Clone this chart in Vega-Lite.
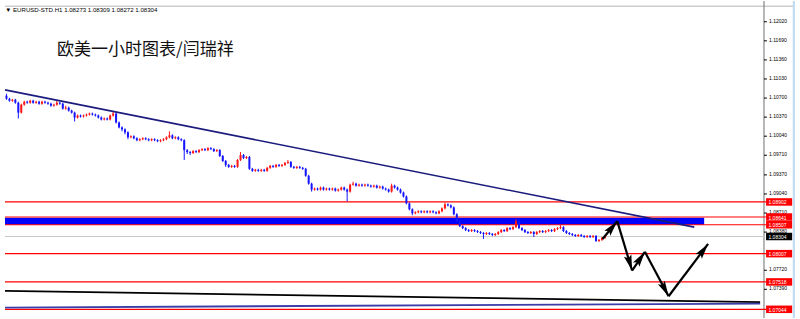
{
  "$schema": "https://vega.github.io/schema/vega-lite/v6.json",
  "width": 800,
  "height": 319,
  "padding": {"left": 0, "right": 0, "top": 0, "bottom": 0},
  "autosize": {"type": "fit", "contains": "padding"},
  "background": "white",
  "config": {"view": {"stroke": null}},
  "datasets": {
    "candles": [
      {"t":0,"o":1.10739,"h":1.10773,"l":1.10670,"c":1.10687},
      {"t":1,"o":1.10687,"h":1.10705,"l":1.10636,"c":1.10653},
      {"t":2,"o":1.10653,"h":1.10687,"l":1.10636,"c":1.10670},
      {"t":3,"o":1.10670,"h":1.10687,"l":1.10602,"c":1.10619},
      {"t":4,"o":1.10619,"h":1.10636,"l":1.10346,"c":1.10448},
      {"t":5,"o":1.10448,"h":1.10602,"l":1.10431,"c":1.10585},
      {"t":6,"o":1.10585,"h":1.10653,"l":1.10568,"c":1.10636},
      {"t":7,"o":1.10636,"h":1.10653,"l":1.10602,"c":1.10619},
      {"t":8,"o":1.10619,"h":1.10670,"l":1.10602,"c":1.10653},
      {"t":9,"o":1.10653,"h":1.10670,"l":1.10602,"c":1.10619},
      {"t":10,"o":1.10619,"h":1.10653,"l":1.10602,"c":1.10636},
      {"t":11,"o":1.10636,"h":1.10653,"l":1.10585,"c":1.10602},
      {"t":12,"o":1.10602,"h":1.10653,"l":1.10585,"c":1.10636},
      {"t":13,"o":1.10636,"h":1.10653,"l":1.10602,"c":1.10619},
      {"t":14,"o":1.10619,"h":1.10636,"l":1.10585,"c":1.10602},
      {"t":15,"o":1.10602,"h":1.10619,"l":1.10551,"c":1.10568},
      {"t":16,"o":1.10568,"h":1.10602,"l":1.10551,"c":1.10585},
      {"t":17,"o":1.10585,"h":1.10653,"l":1.10568,"c":1.10619},
      {"t":18,"o":1.10619,"h":1.10636,"l":1.10585,"c":1.10602},
      {"t":19,"o":1.10602,"h":1.10619,"l":1.10499,"c":1.10517},
      {"t":20,"o":1.10517,"h":1.10568,"l":1.10499,"c":1.10534},
      {"t":21,"o":1.10534,"h":1.10551,"l":1.10465,"c":1.10482},
      {"t":22,"o":1.10482,"h":1.10499,"l":1.10431,"c":1.10448},
      {"t":23,"o":1.10448,"h":1.10465,"l":1.10294,"c":1.10363},
      {"t":24,"o":1.10363,"h":1.10414,"l":1.10346,"c":1.10397},
      {"t":25,"o":1.10397,"h":1.10414,"l":1.10363,"c":1.10380},
      {"t":26,"o":1.10380,"h":1.10414,"l":1.10363,"c":1.10397},
      {"t":27,"o":1.10397,"h":1.10431,"l":1.10380,"c":1.10414},
      {"t":28,"o":1.10414,"h":1.10448,"l":1.10397,"c":1.10431},
      {"t":29,"o":1.10431,"h":1.10448,"l":1.10397,"c":1.10414},
      {"t":30,"o":1.10414,"h":1.10431,"l":1.10380,"c":1.10397},
      {"t":31,"o":1.10397,"h":1.10414,"l":1.10346,"c":1.10363},
      {"t":32,"o":1.10363,"h":1.10380,"l":1.10312,"c":1.10329},
      {"t":33,"o":1.10329,"h":1.10363,"l":1.10312,"c":1.10346},
      {"t":34,"o":1.10346,"h":1.10363,"l":1.10312,"c":1.10329},
      {"t":35,"o":1.10329,"h":1.10414,"l":1.10312,"c":1.10397},
      {"t":36,"o":1.10397,"h":1.10465,"l":1.10380,"c":1.10431},
      {"t":37,"o":1.10431,"h":1.10448,"l":1.10260,"c":1.10277},
      {"t":38,"o":1.10277,"h":1.10294,"l":1.10175,"c":1.10192},
      {"t":39,"o":1.10192,"h":1.10209,"l":1.10124,"c":1.10158},
      {"t":40,"o":1.10158,"h":1.10175,"l":1.10072,"c":1.10107},
      {"t":41,"o":1.10107,"h":1.10124,"l":1.09987,"c":1.10021},
      {"t":42,"o":1.10021,"h":1.10055,"l":1.10004,"c":1.10038},
      {"t":43,"o":1.10038,"h":1.10055,"l":1.09987,"c":1.10004},
      {"t":44,"o":1.10004,"h":1.10021,"l":1.09953,"c":1.09970},
      {"t":45,"o":1.09970,"h":1.10004,"l":1.09953,"c":1.09987},
      {"t":46,"o":1.09987,"h":1.10021,"l":1.09970,"c":1.10004},
      {"t":47,"o":1.10004,"h":1.10021,"l":1.09970,"c":1.09987},
      {"t":48,"o":1.09987,"h":1.10004,"l":1.09953,"c":1.09970},
      {"t":49,"o":1.09970,"h":1.10004,"l":1.09953,"c":1.09987},
      {"t":50,"o":1.09987,"h":1.10004,"l":1.09953,"c":1.09970},
      {"t":51,"o":1.09970,"h":1.09987,"l":1.09936,"c":1.09953},
      {"t":52,"o":1.09953,"h":1.09987,"l":1.09936,"c":1.09970},
      {"t":53,"o":1.09970,"h":1.10004,"l":1.09953,"c":1.09987},
      {"t":54,"o":1.09987,"h":1.10038,"l":1.09970,"c":1.10021},
      {"t":55,"o":1.10021,"h":1.10124,"l":1.10004,"c":1.10055},
      {"t":56,"o":1.10055,"h":1.10072,"l":1.09987,"c":1.10004},
      {"t":57,"o":1.10004,"h":1.10038,"l":1.09987,"c":1.10021},
      {"t":58,"o":1.10021,"h":1.10038,"l":1.09970,"c":1.09987},
      {"t":59,"o":1.09987,"h":1.10004,"l":1.09953,"c":1.09970},
      {"t":60,"o":1.09970,"h":1.09987,"l":1.09628,"c":1.09799},
      {"t":61,"o":1.09799,"h":1.09816,"l":1.09731,"c":1.09765},
      {"t":62,"o":1.09765,"h":1.09782,"l":1.09714,"c":1.09748},
      {"t":63,"o":1.09748,"h":1.09799,"l":1.09731,"c":1.09782},
      {"t":64,"o":1.09782,"h":1.09799,"l":1.09748,"c":1.09765},
      {"t":65,"o":1.09765,"h":1.09816,"l":1.09748,"c":1.09799},
      {"t":66,"o":1.09799,"h":1.09833,"l":1.09782,"c":1.09816},
      {"t":67,"o":1.09816,"h":1.09833,"l":1.09782,"c":1.09799},
      {"t":68,"o":1.09799,"h":1.09850,"l":1.09782,"c":1.09833},
      {"t":69,"o":1.09833,"h":1.09850,"l":1.09799,"c":1.09816},
      {"t":70,"o":1.09816,"h":1.09833,"l":1.09765,"c":1.09782},
      {"t":71,"o":1.09782,"h":1.09816,"l":1.09765,"c":1.09799},
      {"t":72,"o":1.09799,"h":1.09816,"l":1.09680,"c":1.09697},
      {"t":73,"o":1.09697,"h":1.09714,"l":1.09594,"c":1.09611},
      {"t":74,"o":1.09611,"h":1.09628,"l":1.09509,"c":1.09543},
      {"t":75,"o":1.09543,"h":1.09560,"l":1.09492,"c":1.09509},
      {"t":76,"o":1.09509,"h":1.09543,"l":1.09492,"c":1.09526},
      {"t":77,"o":1.09526,"h":1.09543,"l":1.09492,"c":1.09509},
      {"t":78,"o":1.09509,"h":1.09645,"l":1.09492,"c":1.09628},
      {"t":79,"o":1.09628,"h":1.09765,"l":1.09611,"c":1.09714},
      {"t":80,"o":1.09714,"h":1.09731,"l":1.09645,"c":1.09662},
      {"t":81,"o":1.09662,"h":1.09697,"l":1.09645,"c":1.09680},
      {"t":82,"o":1.09680,"h":1.09697,"l":1.09457,"c":1.09475},
      {"t":83,"o":1.09475,"h":1.09492,"l":1.09423,"c":1.09440},
      {"t":84,"o":1.09440,"h":1.09475,"l":1.09423,"c":1.09457},
      {"t":85,"o":1.09457,"h":1.09475,"l":1.09423,"c":1.09440},
      {"t":86,"o":1.09440,"h":1.09475,"l":1.09423,"c":1.09457},
      {"t":87,"o":1.09457,"h":1.09475,"l":1.09423,"c":1.09440},
      {"t":88,"o":1.09440,"h":1.09509,"l":1.09423,"c":1.09492},
      {"t":89,"o":1.09492,"h":1.09543,"l":1.09475,"c":1.09526},
      {"t":90,"o":1.09526,"h":1.09543,"l":1.09492,"c":1.09509},
      {"t":91,"o":1.09509,"h":1.09560,"l":1.09492,"c":1.09543},
      {"t":92,"o":1.09543,"h":1.09560,"l":1.09509,"c":1.09526},
      {"t":93,"o":1.09526,"h":1.09560,"l":1.09509,"c":1.09543},
      {"t":94,"o":1.09543,"h":1.09594,"l":1.09526,"c":1.09577},
      {"t":95,"o":1.09577,"h":1.09628,"l":1.09560,"c":1.09594},
      {"t":96,"o":1.09594,"h":1.09611,"l":1.09492,"c":1.09509},
      {"t":97,"o":1.09509,"h":1.09526,"l":1.09475,"c":1.09492},
      {"t":98,"o":1.09492,"h":1.09526,"l":1.09475,"c":1.09509},
      {"t":99,"o":1.09509,"h":1.09526,"l":1.09475,"c":1.09492},
      {"t":100,"o":1.09492,"h":1.09509,"l":1.09457,"c":1.09475},
      {"t":101,"o":1.09475,"h":1.09492,"l":1.09338,"c":1.09355},
      {"t":102,"o":1.09355,"h":1.09372,"l":1.09201,"c":1.09218},
      {"t":103,"o":1.09218,"h":1.09235,"l":1.09081,"c":1.09116},
      {"t":104,"o":1.09116,"h":1.09150,"l":1.09098,"c":1.09133},
      {"t":105,"o":1.09133,"h":1.09150,"l":1.09098,"c":1.09116},
      {"t":106,"o":1.09116,"h":1.09167,"l":1.09098,"c":1.09150},
      {"t":107,"o":1.09150,"h":1.09167,"l":1.09098,"c":1.09116},
      {"t":108,"o":1.09116,"h":1.09150,"l":1.09098,"c":1.09133},
      {"t":109,"o":1.09133,"h":1.09150,"l":1.09098,"c":1.09116},
      {"t":110,"o":1.09116,"h":1.09150,"l":1.09098,"c":1.09133},
      {"t":111,"o":1.09133,"h":1.09150,"l":1.09081,"c":1.09098},
      {"t":112,"o":1.09098,"h":1.09133,"l":1.09081,"c":1.09116},
      {"t":113,"o":1.09116,"h":1.09167,"l":1.09098,"c":1.09150},
      {"t":114,"o":1.09150,"h":1.09167,"l":1.09098,"c":1.09116},
      {"t":115,"o":1.09116,"h":1.09133,"l":1.08911,"c":1.09081},
      {"t":116,"o":1.09081,"h":1.09218,"l":1.09064,"c":1.09201},
      {"t":117,"o":1.09201,"h":1.09252,"l":1.09184,"c":1.09218},
      {"t":118,"o":1.09218,"h":1.09235,"l":1.09167,"c":1.09184},
      {"t":119,"o":1.09184,"h":1.09218,"l":1.09167,"c":1.09201},
      {"t":120,"o":1.09201,"h":1.09218,"l":1.09167,"c":1.09184},
      {"t":121,"o":1.09184,"h":1.09218,"l":1.09167,"c":1.09201},
      {"t":122,"o":1.09201,"h":1.09218,"l":1.09167,"c":1.09184},
      {"t":123,"o":1.09184,"h":1.09201,"l":1.09150,"c":1.09167},
      {"t":124,"o":1.09167,"h":1.09201,"l":1.09150,"c":1.09184},
      {"t":125,"o":1.09184,"h":1.09201,"l":1.09133,"c":1.09150},
      {"t":126,"o":1.09150,"h":1.09184,"l":1.09133,"c":1.09167},
      {"t":127,"o":1.09167,"h":1.09184,"l":1.09116,"c":1.09133},
      {"t":128,"o":1.09133,"h":1.09150,"l":1.09098,"c":1.09116},
      {"t":129,"o":1.09116,"h":1.09133,"l":1.09064,"c":1.09081},
      {"t":130,"o":1.09081,"h":1.09218,"l":1.09064,"c":1.09184},
      {"t":131,"o":1.09184,"h":1.09201,"l":1.09133,"c":1.09150},
      {"t":132,"o":1.09150,"h":1.09167,"l":1.09098,"c":1.09116},
      {"t":133,"o":1.09116,"h":1.09133,"l":1.09047,"c":1.09064},
      {"t":134,"o":1.09064,"h":1.09081,"l":1.08979,"c":1.08996},
      {"t":135,"o":1.08996,"h":1.09013,"l":1.08860,"c":1.08877},
      {"t":136,"o":1.08877,"h":1.08894,"l":1.08757,"c":1.08774},
      {"t":137,"o":1.08774,"h":1.08791,"l":1.08671,"c":1.08706},
      {"t":138,"o":1.08706,"h":1.08740,"l":1.08689,"c":1.08723},
      {"t":139,"o":1.08723,"h":1.08757,"l":1.08706,"c":1.08740},
      {"t":140,"o":1.08740,"h":1.08757,"l":1.08706,"c":1.08723},
      {"t":141,"o":1.08723,"h":1.08757,"l":1.08706,"c":1.08740},
      {"t":142,"o":1.08740,"h":1.08757,"l":1.08706,"c":1.08723},
      {"t":143,"o":1.08723,"h":1.08757,"l":1.08706,"c":1.08740},
      {"t":144,"o":1.08740,"h":1.08757,"l":1.08706,"c":1.08723},
      {"t":145,"o":1.08723,"h":1.08740,"l":1.08689,"c":1.08706},
      {"t":146,"o":1.08706,"h":1.08757,"l":1.08689,"c":1.08740},
      {"t":147,"o":1.08740,"h":1.08808,"l":1.08723,"c":1.08791},
      {"t":148,"o":1.08791,"h":1.08894,"l":1.08774,"c":1.08860},
      {"t":149,"o":1.08860,"h":1.08877,"l":1.08825,"c":1.08842},
      {"t":150,"o":1.08842,"h":1.08860,"l":1.08791,"c":1.08808},
      {"t":151,"o":1.08808,"h":1.08825,"l":1.08671,"c":1.08689},
      {"t":152,"o":1.08689,"h":1.08706,"l":1.08552,"c":1.08569},
      {"t":153,"o":1.08569,"h":1.08586,"l":1.08466,"c":1.08483},
      {"t":154,"o":1.08483,"h":1.08501,"l":1.08432,"c":1.08449},
      {"t":155,"o":1.08449,"h":1.08466,"l":1.08398,"c":1.08415},
      {"t":156,"o":1.08415,"h":1.08432,"l":1.08381,"c":1.08398},
      {"t":157,"o":1.08398,"h":1.08432,"l":1.08381,"c":1.08415},
      {"t":158,"o":1.08415,"h":1.08432,"l":1.08381,"c":1.08398},
      {"t":159,"o":1.08398,"h":1.08415,"l":1.08364,"c":1.08381},
      {"t":160,"o":1.08381,"h":1.08398,"l":1.08347,"c":1.08364},
      {"t":161,"o":1.08364,"h":1.08381,"l":1.08261,"c":1.08347},
      {"t":162,"o":1.08347,"h":1.08381,"l":1.08330,"c":1.08364},
      {"t":163,"o":1.08364,"h":1.08381,"l":1.08330,"c":1.08347},
      {"t":164,"o":1.08347,"h":1.08364,"l":1.08313,"c":1.08330},
      {"t":165,"o":1.08330,"h":1.08364,"l":1.08313,"c":1.08347},
      {"t":166,"o":1.08347,"h":1.08398,"l":1.08330,"c":1.08381},
      {"t":167,"o":1.08381,"h":1.08432,"l":1.08364,"c":1.08415},
      {"t":168,"o":1.08415,"h":1.08432,"l":1.08381,"c":1.08398},
      {"t":169,"o":1.08398,"h":1.08466,"l":1.08381,"c":1.08449},
      {"t":170,"o":1.08449,"h":1.08466,"l":1.08415,"c":1.08432},
      {"t":171,"o":1.08432,"h":1.08483,"l":1.08415,"c":1.08466},
      {"t":172,"o":1.08466,"h":1.08603,"l":1.08449,"c":1.08569},
      {"t":173,"o":1.08569,"h":1.08586,"l":1.08432,"c":1.08449},
      {"t":174,"o":1.08449,"h":1.08466,"l":1.08398,"c":1.08415},
      {"t":175,"o":1.08415,"h":1.08432,"l":1.08364,"c":1.08381},
      {"t":176,"o":1.08381,"h":1.08398,"l":1.08347,"c":1.08364},
      {"t":177,"o":1.08364,"h":1.08398,"l":1.08347,"c":1.08381},
      {"t":178,"o":1.08381,"h":1.08398,"l":1.08296,"c":1.08347},
      {"t":179,"o":1.08347,"h":1.08398,"l":1.08330,"c":1.08381},
      {"t":180,"o":1.08381,"h":1.08415,"l":1.08364,"c":1.08398},
      {"t":181,"o":1.08398,"h":1.08415,"l":1.08364,"c":1.08381},
      {"t":182,"o":1.08381,"h":1.08415,"l":1.08364,"c":1.08398},
      {"t":183,"o":1.08398,"h":1.08432,"l":1.08381,"c":1.08415},
      {"t":184,"o":1.08415,"h":1.08432,"l":1.08381,"c":1.08398},
      {"t":185,"o":1.08398,"h":1.08449,"l":1.08381,"c":1.08432},
      {"t":186,"o":1.08432,"h":1.08466,"l":1.08415,"c":1.08449},
      {"t":187,"o":1.08449,"h":1.08501,"l":1.08432,"c":1.08466},
      {"t":188,"o":1.08466,"h":1.08483,"l":1.08381,"c":1.08398},
      {"t":189,"o":1.08398,"h":1.08415,"l":1.08347,"c":1.08364},
      {"t":190,"o":1.08364,"h":1.08381,"l":1.08330,"c":1.08347},
      {"t":191,"o":1.08347,"h":1.08364,"l":1.08313,"c":1.08330},
      {"t":192,"o":1.08330,"h":1.08347,"l":1.08296,"c":1.08313},
      {"t":193,"o":1.08313,"h":1.08347,"l":1.08296,"c":1.08330},
      {"t":194,"o":1.08330,"h":1.08347,"l":1.08296,"c":1.08313},
      {"t":195,"o":1.08313,"h":1.08330,"l":1.08279,"c":1.08296},
      {"t":196,"o":1.08296,"h":1.08330,"l":1.08279,"c":1.08313},
      {"t":197,"o":1.08313,"h":1.08330,"l":1.08279,"c":1.08296},
      {"t":198,"o":1.08296,"h":1.08330,"l":1.08279,"c":1.08313},
      {"t":199,"o":1.08313,"h":1.08330,"l":1.08210,"c":1.08227},
      {"t":200,"o":1.08227,"h":1.08261,"l":1.08210,"c":1.08244},
      {"t":201,"o":1.08244,"h":1.08296,"l":1.08227,"c":1.08279},
      {"t":202,"o":1.08273,"h":1.08309,"l":1.08272,"c":1.08304}
    ],
    "levels": [
      {"p":1.08902,"kind":"level"},
      {"p":1.08641,"kind":"level"},
      {"p":1.08507,"kind":"level"},
      {"p":1.08007,"kind":"level"},
      {"p":1.07518,"kind":"level"},
      {"p":1.07044,"kind":"level"},
      {"p":1.08304,"kind":"bid"}
    ],
    "ticks": [
      {"p":1.1202},{"p":1.1169},{"p":1.1136},{"p":1.1103},{"p":1.107},{"p":1.1037},{"p":1.1004},
      {"p":1.0971},{"p":1.0937},{"p":1.0904},{"p":1.0871},{"p":1.0838},{"p":1.0772},{"p":1.0739}
    ],
    "zone": [{"from":-0.5,"to":235.5,"top":1.08627,"bottom":1.08507}],
    "trend": [
      {"line":"upper","t1":-0.5,"p1":1.10841,"t2":232.17,"p2":1.08466},
      {"line":"black","t1":-0.5,"p1":1.07364,"t2":254.4,"p2":1.07168},
      {"line":"blue","t1":-0.5,"p1":1.07074,"t2":254.4,"p2":1.07142}
    ],
    "arrows": [
      {"leg":1,"x1":201.17,"y1":1.08261,"x2":206.17,"y2":1.08569},
      {"leg":2,"x1":206.17,"y1":1.08569,"x2":211.17,"y2":1.07715},
      {"leg":3,"x1":211.17,"y1":1.07715,"x2":215.5,"y2":1.08039},
      {"leg":4,"x1":215.5,"y1":1.08039,"x2":223.5,"y2":1.07270},
      {"leg":5,"x1":223.5,"y1":1.07270,"x2":236.83,"y2":1.08176}
    ],
    "notes": [
      {"txt":"▼ EURUSD-STD.H1  1.08273 1.08309 1.08272 1.08304","role":"header"},
      {"txt":"欧美一小时图表/闫瑞祥","role":"title"}
    ]
  },
  "layer": [
    {
      "data": {"values": [{"p":1.1229}]},
      "mark": {"type":"rule","color":"#b4b4b4","strokeWidth":1},
      "encoding": {
        "x": {"datum":-0.5,"type":"quantitative","scale":{"domain":[-0.5,266.1667],"nice":false,"zero":false},"axis":null},
        "x2": {"datum":266.1667},
        "y": {"field":"p","type":"quantitative","scale":{"domain":[1.0698,1.12293],"nice":false,"zero":false},"axis":null}
      }
    },
    {
      "data": {"values": [{"a":265.4,"b":266.1667}]},
      "mark": {"type":"rect","color":"#c4dcf2"},
      "encoding": {
        "x": {"field":"a","type":"quantitative","scale":{"domain":[-0.5,266.1667],"nice":false,"zero":false},"axis":null},
        "x2": {"field":"b"}
      }
    },
    {
      "data": {"values": [{"a":255.7}]},
      "mark": {"type":"rule","color":"#707070","strokeWidth":1},
      "encoding": {
        "x": {"field":"a","type":"quantitative","scale":{"domain":[-0.5,266.1667],"nice":false,"zero":false},"axis":null}
      }
    },
    {
      "data": {"name":"ticks"},
      "mark": {"type":"rule","color":"#000000","strokeWidth":1},
      "encoding": {
        "x": {"datum":255.7,"type":"quantitative","scale":{"domain":[-0.5,266.1667],"nice":false,"zero":false},"axis":null},
        "x2": {"datum":256.7},
        "y": {"field":"p","type":"quantitative","scale":{"domain":[1.0698,1.12293],"nice":false,"zero":false},"axis":null}
      }
    },
    {
      "data": {"name":"ticks"},
      "mark": {"type":"text","color":"#000000","font":"Liberation Sans","fontSize":5.0,"align":"left","baseline":"middle","dy":-1},
      "encoding": {
        "x": {"datum":257.4,"type":"quantitative","scale":{"domain":[-0.5,266.1667],"nice":false,"zero":false},"axis":null},
        "y": {"field":"p","type":"quantitative","scale":{"domain":[1.0698,1.12293],"nice":false,"zero":false},"axis":null},
        "text": {"field":"p","type":"quantitative","format":".5f"}
      }
    },
    {
      "data": {"name":"zone"},
      "mark": {"type":"rect","color":"#0000ff"},
      "encoding": {
        "x": {"field":"from","type":"quantitative","scale":{"domain":[-0.5,266.1667],"nice":false,"zero":false},"axis":null},
        "x2": {"field":"to"},
        "y": {"field":"top","type":"quantitative","scale":{"domain":[1.0698,1.12293],"nice":false,"zero":false},"axis":null},
        "y2": {"field":"bottom"}
      }
    },
    {
      "data": {"name":"levels"},
      "transform": [{"filter":"datum.kind == 'bid'"}],
      "mark": {"type":"rule","color":"#c8c8c8","strokeWidth":1},
      "encoding": {
        "x": {"datum":-0.5,"type":"quantitative","scale":{"domain":[-0.5,266.1667],"nice":false,"zero":false},"axis":null},
        "x2": {"datum":255.7},
        "y": {"field":"p","type":"quantitative","scale":{"domain":[1.0698,1.12293],"nice":false,"zero":false},"axis":null}
      }
    },
    {
      "data": {"name":"levels"},
      "transform": [{"filter":"datum.kind == 'level'"}],
      "mark": {"type":"rule","color":"#ff0000","strokeWidth":1.2},
      "encoding": {
        "x": {"datum":-0.5,"type":"quantitative","scale":{"domain":[-0.5,266.1667],"nice":false,"zero":false},"axis":null},
        "x2": {"datum":256.4},
        "y": {"field":"p","type":"quantitative","scale":{"domain":[1.0698,1.12293],"nice":false,"zero":false},"axis":null}
      }
    },
    {
      "data": {"name":"candles"},
      "mark": {"type":"rule","strokeWidth":1},
      "encoding": {
        "x": {"field":"t","type":"quantitative","scale":{"domain":[-0.5,266.1667],"nice":false,"zero":false},"axis":null},
        "y": {"field":"l","type":"quantitative","scale":{"domain":[1.0698,1.12293],"nice":false,"zero":false},"axis":null},
        "y2": {"field":"h"},
        "color": {"condition":{"test":"datum.c < datum.o","value":"#1414ff"},"value":"#ff1414"}
      }
    },
    {
      "data": {"name":"candles"},
      "mark": {"type":"bar","size":2},
      "encoding": {
        "x": {"field":"t","type":"quantitative","scale":{"domain":[-0.5,266.1667],"nice":false,"zero":false},"axis":null},
        "y": {"field":"o","type":"quantitative","scale":{"domain":[1.0698,1.12293],"nice":false,"zero":false},"axis":null},
        "y2": {"field":"c"},
        "color": {"condition":{"test":"datum.c < datum.o","value":"#1414ff"},"value":"#ff1414"}
      }
    },
    {
      "data": {"name":"trend"},
      "mark": {"type":"rule"},
      "encoding": {
        "x": {"field":"t1","type":"quantitative","scale":{"domain":[-0.5,266.1667],"nice":false,"zero":false},"axis":null},
        "x2": {"field":"t2"},
        "y": {"field":"p1","type":"quantitative","scale":{"domain":[1.0698,1.12293],"nice":false,"zero":false},"axis":null},
        "y2": {"field":"p2"},
        "color": {"field":"line","type":"nominal","scale":{"domain":["upper","black","blue"],"range":["#1b1b7e","#000000","#3c3ca8"]},"legend":null},
        "strokeWidth": {"field":"line","type":"nominal","scale":{"domain":["upper","black","blue"],"range":[1.6,1.8,1.2]},"legend":null}
      }
    },
    {
      "data": {"name":"arrows"},
      "mark": {"type":"rule","color":"#000000","strokeWidth":2.2},
      "encoding": {
        "x": {"field":"x1","type":"quantitative","scale":{"domain":[-0.5,266.1667],"nice":false,"zero":false},"axis":null},
        "x2": {"field":"x2"},
        "y": {"field":"y1","type":"quantitative","scale":{"domain":[1.0698,1.12293],"nice":false,"zero":false},"axis":null},
        "y2": {"field":"y2"}
      }
    },
    {
      "data": {"name":"arrows"},
      "transform": [{"calculate":"atan2((datum.x2-datum.x1)*2.9625,(datum.y2-datum.y1)*5816)*180/PI","as":"ang"}],
      "mark": {"type":"point","shape":"M0,0L0.55,2.2L0,1.8L-0.55,2.2Z","filled":true,"color":"#000000","opacity":1,"size":200,"strokeWidth":0},
      "encoding": {
        "x": {"field":"x2","type":"quantitative","scale":{"domain":[-0.5,266.1667],"nice":false,"zero":false},"axis":null},
        "y": {"field":"y2","type":"quantitative","scale":{"domain":[1.0698,1.12293],"nice":false,"zero":false},"axis":null},
        "angle": {"field":"ang","type":"quantitative","scale":null}
      }
    },
    {
      "data": {"name":"levels"},
      "mark": {"type":"bar","orient":"horizontal","size":7.5},
      "encoding": {
        "x": {"datum":256.4,"type":"quantitative","scale":{"domain":[-0.5,266.1667],"nice":false,"zero":false},"axis":null},
        "x2": {"datum":265.2},
        "y": {"field":"p","type":"quantitative","scale":{"domain":[1.0698,1.12293],"nice":false,"zero":false},"axis":null},
        "color": {"condition":{"test":"datum.kind == 'bid'","value":"#000000"},"value":"#ff0000"}
      }
    },
    {
      "data": {"name":"levels"},
      "mark": {"type":"text","color":"#ffffff","font":"Liberation Sans","fontSize":5.0,"align":"left","baseline":"middle","dy":0.5},
      "encoding": {
        "x": {"datum":257.2,"type":"quantitative","scale":{"domain":[-0.5,266.1667],"nice":false,"zero":false},"axis":null},
        "y": {"field":"p","type":"quantitative","scale":{"domain":[1.0698,1.12293],"nice":false,"zero":false},"axis":null},
        "text": {"field":"p","type":"quantitative","format":".5f"}
      }
    },
    {
      "data": {"name":"notes"},
      "transform": [{"filter":"datum.role == 'header'"}],
      "mark": {"type":"text","color":"#000000","font":"Liberation Sans","fontSize":6.1,"align":"left","baseline":"middle"},
      "encoding": {
        "x": {"datum":-0.4,"type":"quantitative","scale":{"domain":[-0.5,266.1667],"nice":false,"zero":false},"axis":null},
        "y": {"datum":1.12225,"type":"quantitative","scale":{"domain":[1.0698,1.12293],"nice":false,"zero":false},"axis":null},
        "text": {"field":"txt"}
      }
    },
    {
      "data": {"name":"notes"},
      "transform": [{"filter":"datum.role == 'title'"}],
      "mark": {"type":"text","color":"#111111","font":"Noto Sans CJK SC","fontSize":17,"align":"left","baseline":"middle"},
      "encoding": {
        "x": {"datum":17.05,"type":"quantitative","scale":{"domain":[-0.5,266.1667],"nice":false,"zero":false},"axis":null},
        "y": {"datum":1.11525,"type":"quantitative","scale":{"domain":[1.0698,1.12293],"nice":false,"zero":false},"axis":null},
        "text": {"field":"txt"}
      }
    }
  ]
}
